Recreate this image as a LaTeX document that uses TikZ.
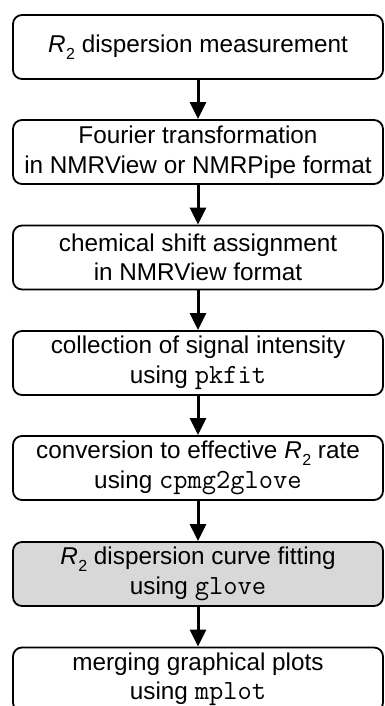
\documentclass[tikz,border=0pt]{standalone}
\usepackage{fontspec}
\setmainfont{Liberation Sans}
\setmonofont[Scale=1.14]{Latin Modern Mono}
\usetikzlibrary{arrows.meta}
\definecolor{boxgray}{RGB}{216,216,216}
\newcommand\RtwoSym{\textit{R}\kern0.5pt\raisebox{-0.28em}{\fontsize{16}{16}\selectfont 2}}
\begin{document}
\begin{tikzpicture}[x=1pt,y=-1pt,
  stepbox/.style={draw=black, line width=1.8pt, rounded corners=9pt, minimum width=370pt,
    minimum height=64pt, inner sep=0pt, align=center, fill=white,
    font=\fontsize{24.3}{29.5}\selectfont},
  flow/.style={line width=3pt, -{Triangle[width=16pt,length=17pt]}}]
\useasboundingbox (0,0) rectangle (385,706);
\clip (0,0) rectangle (385,706);
\node[stepbox] (b1) at (198,47) {\RtwoSym{} dispersion measurement};
\node[stepbox] (b2) at (198,152) {Fourier transformation\\in NMRView or NMRPipe format};
\node[stepbox] (b3) at (198,257.5) {chemical shift assignment\\in NMRView format};
\node[stepbox] (b4) at (198,363) {collection of signal intensity\\using \texttt{pkfit}};
\node[stepbox] (b5) at (198,468) {conversion to effective \RtwoSym{} rate\\using \texttt{cpmg2glove}};
\node[stepbox, fill=boxgray] (b6) at (198,574) {\RtwoSym{} dispersion curve fitting\\using \texttt{glove}};
\node[stepbox] (b7) at (198,679.5) {merging graphical plots\\using \texttt{mplot}};
\draw[flow] (b1.south) -- (b2.north);
\draw[flow] (b2.south) -- (b3.north);
\draw[flow] (b3.south) -- (b4.north);
\draw[flow] (b4.south) -- (b5.north);
\draw[flow] (b5.south) -- (b6.north);
\draw[flow] (b6.south) -- (b7.north);
\end{tikzpicture}
\end{document}
